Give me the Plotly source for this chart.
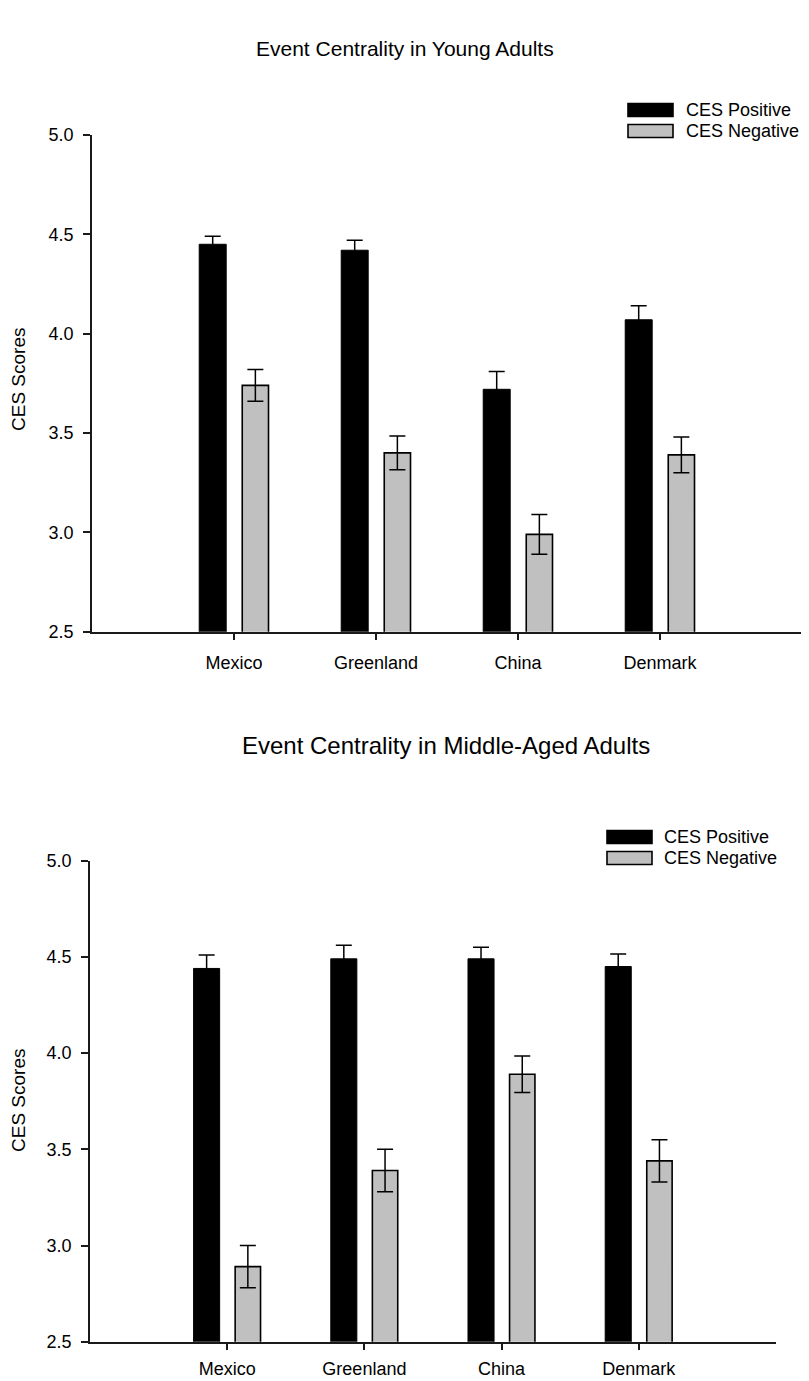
import plotly.graph_objects as go

W, H = 809, 1381
PAGE_OFFSET = 8  # browser body margin

countries = ["Mexico", "Greenland", "China", "Denmark"]
series_names = ["CES Positive", "CES Negative"]

young_pos = [4.45, 4.42, 3.72, 4.07]
young_pos_err = [0.04, 0.05, 0.09, 0.07]
young_neg = [3.74, 3.40, 2.99, 3.39]
young_neg_err = [0.08, 0.085, 0.10, 0.09]

mid_pos = [4.44, 4.49, 4.49, 4.45]
mid_pos_err = [0.07, 0.07, 0.06, 0.065]
mid_neg = [2.89, 3.39, 3.89, 3.44]
mid_neg_err = [0.11, 0.11, 0.095, 0.11]

y_ticks = [2.5, 3.0, 3.5, 4.0, 4.5, 5.0]
titles = ["Event Centrality in Young Adults", "Event Centrality in Middle-Aged Adults"]
y_title = "CES Scores"

FONT = "Arial, Liberation Sans, sans-serif"
POS_COLOR = "#000000"
NEG_COLOR = "#c0c0c0"
LINE = "#1a1a1a"


def px_x(p):
    return (p - PAGE_OFFSET) / W


def px_y(p):
    return 1 - (p - PAGE_OFFSET) / H


x_idx = list(range(len(countries)))

fig = go.Figure()

panels = [
    ("x", "y", young_pos, young_pos_err, young_neg, young_neg_err),
    ("x2", "y2", mid_pos, mid_pos_err, mid_neg, mid_neg_err),
]

for xa, ya, pos, pos_err, neg, neg_err in panels:
    fig.add_trace(go.Bar(
        x=x_idx, y=pos, width=0.19, offset=-0.245,
        marker=dict(color=POS_COLOR, line=dict(color=POS_COLOR, width=1)),
        error_y=dict(type="data", array=pos_err, color="black", thickness=1.5, width=8),
        name=series_names[0], showlegend=False, xaxis=xa, yaxis=ya,
    ))
    fig.add_trace(go.Bar(
        x=x_idx, y=neg, width=0.185, offset=0.058,
        marker=dict(color=NEG_COLOR, line=dict(color="black", width=1.6)),
        error_y=dict(type="data", array=neg_err, color="black", thickness=1.5, width=8),
        name=series_names[1], showlegend=False, xaxis=xa, yaxis=ya,
    ))

common_x = dict(
    range=[-1, 4], tickmode="array", tickvals=x_idx, ticktext=countries,
    ticks="outside", ticklen=7, tickwidth=1.5, tickcolor=LINE,
    showline=True, linecolor=LINE, linewidth=1.5,
    showgrid=False, zeroline=False, automargin=False,
    tickfont=dict(family=FONT, size=18, color="black"),
)
common_y = dict(
    range=[2.5, 5.0], tickmode="array", tickvals=y_ticks,
    ticktext=[f"{v:.1f}" for v in y_ticks],
    ticks="outside", ticklen=7, tickwidth=1.5, tickcolor=LINE,
    showline=True, linecolor=LINE, linewidth=1.5,
    showgrid=False, zeroline=False, automargin=False,
    tickfont=dict(family=FONT, size=18, color="black"),
    ticklabelstandoff=6,
)

fig.update_layout(
    width=W, height=H,
    margin=dict(l=0, r=0, t=0, b=0),
    paper_bgcolor="white", plot_bgcolor="white",
    barmode="overlay", showlegend=False,
    font=dict(family=FONT, color="black"),
    xaxis=dict(domain=[px_x(92), px_x(802)], anchor="y", ticklabelstandoff=7, **common_x),
    yaxis=dict(domain=[px_y(631.7), px_y(135)], anchor="x", **common_y),
    xaxis2=dict(domain=[px_x(90), px_x(776)], anchor="y2", ticklabelstandoff=3, **common_x),
    yaxis2=dict(domain=[px_y(1341.7), px_y(860.7)], anchor="x2", **common_y),
)

annotations = []
shapes = []

# Titles
annotations.append(dict(text=titles[0], x=px_x(405), y=px_y(48), xref="paper", yref="paper",
                        showarrow=False, xanchor="center", yanchor="middle",
                        font=dict(family=FONT, size=21, color="black")))
annotations.append(dict(text=titles[1], x=px_x(446), y=px_y(745), xref="paper", yref="paper",
                        showarrow=False, xanchor="center", yanchor="middle",
                        font=dict(family=FONT, size=24, color="black")))

# Y axis titles
for yc in [380, 1101]:
    annotations.append(dict(text=y_title, x=px_x(18), y=px_y(yc), xref="paper", yref="paper",
                            showarrow=False, xanchor="center", yanchor="middle", textangle=-90,
                            font=dict(family=FONT, size=19, color="black")))

# Legends (boxes + labels)
legend_specs = [
    (628, 673, 684, [110, 131]),
    (607, 652, 662, [837, 858]),
]
for x0, x1, xt, rows in legend_specs:
    for i, yc in enumerate(rows):
        fill = POS_COLOR if i == 0 else NEG_COLOR
        shapes.append(dict(type="rect", xref="paper", yref="paper",
                           x0=px_x(x0), x1=px_x(x1), y0=px_y(yc - 6.5), y1=px_y(yc + 6.5),
                           fillcolor=fill, line=dict(color="black", width=1.6)))
        annotations.append(dict(text=series_names[i], x=px_x(xt), y=px_y(yc), xref="paper", yref="paper",
                                showarrow=False, xanchor="left", yanchor="middle",
                                font=dict(family=FONT, size=18, color="black")))

fig.update_layout(annotations=annotations, shapes=shapes)

fig.write_html("out.html")
